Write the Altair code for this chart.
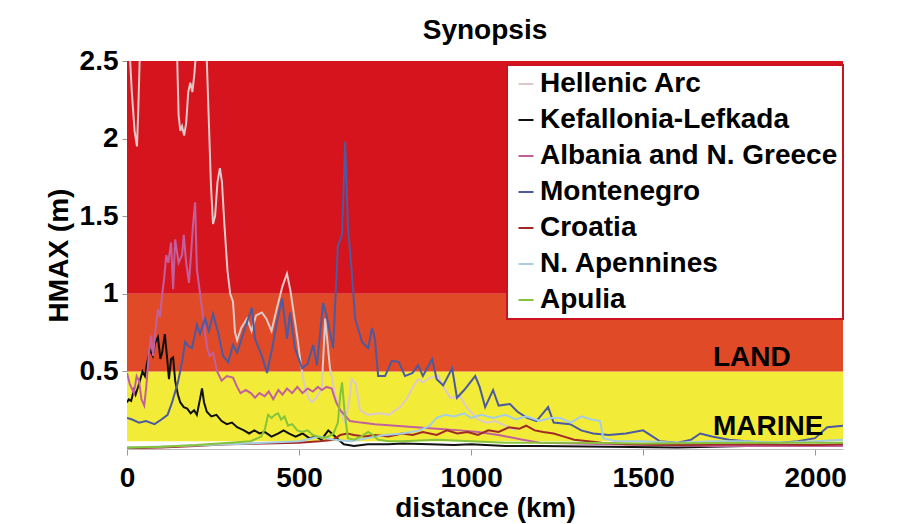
import altair as alt
import pandas as pd

# ---------------- data ----------------
series_names = ["Hellenic Arc", "Kefallonia-Lefkada", "Albania and N. Greece",
                "Montenegro", "Croatia", "N. Apennines", "Apulia"]
series_colors = ["#dccaca", "#111111", "#c2609e", "#4c5aa0", "#a02a26", "#a6cde4", "#86c23a"]

hellenic_km = [0, 8, 14, 22, 29, 33, 38, 60, 100, 140, 146, 150, 155, 160, 166, 172, 178, 184, 190, 196,
               202, 215, 225, 232, 238, 244, 250, 256, 263, 270, 276, 283, 292, 300, 308, 314, 320, 332,
               349, 362, 375, 392, 405, 420, 436, 452, 465, 475, 483, 495, 505, 517, 528, 537, 550, 566,
               576, 590, 605, 614, 625, 634, 645, 653, 665, 677, 700, 735, 760, 794, 815, 831, 846, 860,
               880, 905, 920, 940, 968, 990, 1020, 1045, 1070, 1100, 1130]
hellenic_v = [2.7, 2.55, 2.3, 2.05, 1.95, 2.2, 2.6, 2.9, 2.95, 2.8, 2.5, 2.15, 2.05, 2.08, 2.02, 2.1, 2.3, 2.36, 2.3, 2.42,
              2.6, 2.9, 2.8, 2.5, 2.1, 1.7, 1.45, 1.5, 1.72, 1.81, 1.72, 1.45, 1.15, 1.0, 0.95, 0.75, 0.70, 0.78,
              0.84, 0.76, 0.86, 0.88, 0.84, 0.76, 0.91, 1.05, 1.13, 1.02, 0.90, 0.72, 0.55, 0.39, 0.33, 0.30, 0.33, 0.39,
              0.84, 0.52, 0.35, 0.28, 0.22, 0.17, 0.30, 0.45, 0.42, 0.25, 0.22, 0.23, 0.22, 0.27, 0.33, 0.40, 0.45, 0.43,
              0.46, 0.47, 0.40, 0.33, 0.34, 0.26, 0.19, 0.17, 0.18, 0.15, 0.12]

kef_km = [0, 5, 12, 20, 25, 35, 45, 52, 58, 67, 75, 81, 90, 97, 102, 110, 116, 122, 128, 134, 140, 148, 155,
          165, 175, 185, 195, 203, 212, 218, 224, 232, 245, 260, 275, 290, 305, 320, 340, 355, 370, 385, 400,
          420, 440, 455, 470, 490, 510, 530, 550, 565, 585, 600, 615, 630, 660, 700, 760, 800, 880, 950, 1000,
          1100, 1200, 1400, 1600, 1800, 2081]
kef_v = [0.30, 0.32, 0.31, 0.38, 0.35, 0.42, 0.50, 0.47, 0.55, 0.64, 0.60, 0.68, 0.72, 0.58, 0.62, 0.74, 0.60, 0.45,
         0.58, 0.59, 0.44, 0.35, 0.30, 0.27, 0.26, 0.23, 0.25, 0.22, 0.32, 0.39, 0.30, 0.24, 0.21, 0.22, 0.18, 0.16,
         0.17, 0.14, 0.12, 0.10, 0.12, 0.10, 0.11, 0.08, 0.10, 0.12, 0.10, 0.08, 0.10, 0.07, 0.08, 0.06, 0.12, 0.09,
         0.06, 0.03, 0.02, 0.03, 0.03, 0.035, 0.03, 0.025, 0.03, 0.02, 0.02, 0.015, 0.01, 0.02, 0.02]

alb_km = [0, 8, 14, 20, 28, 35, 42, 50, 56, 64, 70, 76, 82, 90, 96, 102, 108, 114, 120, 128, 134, 140, 150, 160,
          165, 172, 180, 186, 192, 198, 203, 213, 223, 232, 240, 250, 262, 275, 290, 308, 320, 330, 345, 360,
          372, 385, 400, 412, 425, 440, 452, 465, 480, 495, 510, 525, 540, 555, 566, 580, 595, 608, 620, 648,
          680, 720, 780, 840, 900, 968, 1020, 1080, 1150, 1200, 1400, 1700, 2081]
alb_v = [0.49, 0.42, 0.39, 0.36, 0.47, 0.44, 0.32, 0.28, 0.40, 0.62, 0.73, 0.60, 0.75, 0.90, 0.85, 0.99, 1.10, 1.25,
         1.20, 1.33, 1.03, 1.35, 1.20, 1.25, 1.38, 1.20, 1.07, 1.25, 1.45, 1.59, 1.16, 0.99, 0.82, 0.66, 0.60, 0.62,
         0.50, 0.44, 0.47, 0.46, 0.40, 0.36, 0.38, 0.36, 0.33, 0.36, 0.34, 0.37, 0.32, 0.38, 0.35, 0.39, 0.36, 0.40,
         0.36, 0.39, 0.37, 0.40, 0.38, 0.40, 0.39, 0.30, 0.25, 0.18, 0.17, 0.16, 0.15, 0.14, 0.13, 0.12, 0.11, 0.09,
         0.06, 0.04, 0.03, 0.02, 0.02]

mon_km = [0, 15, 35, 55, 80, 100, 118, 131, 148, 160, 169, 180, 189, 203, 212, 227, 238, 250, 265, 279, 294, 308,
          320, 343, 363, 372, 392, 407, 422, 436, 451, 465, 474, 488, 509, 525, 541, 552, 570, 580, 599, 613,
          625, 634, 642, 654, 663, 683, 701, 712, 720, 730, 750, 770, 790, 808, 830, 846, 860, 887, 900, 919,
          945, 959, 980, 1012, 1025, 1041, 1064, 1080, 1113, 1135, 1163, 1190, 1224, 1240, 1288, 1320, 1355,
          1400, 1450, 1500, 1549, 1600, 1640, 1666, 1700, 1750, 1800, 1850, 1900, 1950, 2000, 2035, 2081]
mon_v = [0.20, 0.19, 0.17, 0.18, 0.16, 0.19, 0.22, 0.30, 0.43, 0.56, 0.69, 0.66, 0.65, 0.80, 0.74, 0.84, 0.76, 0.87,
         0.75, 0.60, 0.56, 0.67, 0.62, 0.78, 0.91, 0.71, 0.60, 0.49, 0.65, 0.82, 0.97, 0.71, 0.88, 0.65, 0.52, 0.55,
         0.67, 0.54, 0.94, 0.86, 0.65, 1.31, 1.38, 1.98, 1.44, 1.12, 0.84, 0.69, 0.65, 0.78, 0.72, 0.47, 0.47, 0.57,
         0.56, 0.47, 0.49, 0.54, 0.47, 0.58, 0.45, 0.41, 0.52, 0.33, 0.38, 0.47, 0.40, 0.27, 0.38, 0.28, 0.29, 0.24,
         0.20, 0.18, 0.27, 0.17, 0.16, 0.12, 0.10, 0.09, 0.10, 0.12, 0.05, 0.04, 0.06, 0.10, 0.08, 0.06, 0.05, 0.04,
         0.04, 0.05, 0.07, 0.14, 0.15]

cro_km = [0, 100, 150, 200, 250, 300, 400, 500, 560, 600, 620, 640, 660, 690, 720, 760, 800, 830, 860, 900, 930,
          960, 990, 1020, 1050, 1080, 1110, 1140, 1160, 1185, 1210, 1240, 1270, 1300, 1340, 1380, 1450, 1600,
          1800, 2000, 2081]
cro_v = [0.005, 0.01, 0.015, 0.02, 0.025, 0.03, 0.035, 0.04, 0.05, 0.06, 0.09, 0.10, 0.09, 0.08, 0.09, 0.08, 0.10,
         0.09, 0.11, 0.09, 0.12, 0.10, 0.11, 0.09, 0.12, 0.11, 0.14, 0.13, 0.15, 0.12, 0.11, 0.10, 0.08, 0.06, 0.05,
         0.04, 0.03, 0.025, 0.03, 0.025, 0.03]

ape_km = [0, 150, 300, 400, 500, 560, 600, 650, 700, 750, 800, 850, 880, 900, 924, 950, 980, 1000, 1030, 1064,
          1100, 1130, 1160, 1200, 1230, 1259, 1290, 1320, 1350, 1375, 1384, 1420, 1500, 1600, 1700, 1800, 1900,
          2000, 2081]
ape_v = [0.01, 0.02, 0.03, 0.04, 0.05, 0.08, 0.06, 0.05, 0.07, 0.09, 0.10, 0.12, 0.15, 0.20, 0.22, 0.21, 0.23, 0.20,
         0.22, 0.20, 0.22, 0.19, 0.21, 0.18, 0.20, 0.20, 0.17, 0.21, 0.19, 0.18, 0.07, 0.05, 0.05, 0.04, 0.05, 0.05,
         0.04, 0.05, 0.06]

apu_km = [0, 100, 200, 300, 360, 390, 401, 410, 420, 430, 439, 448, 458, 468, 480, 495, 509, 525, 540, 555, 567,
          585, 600, 613, 620, 625, 632, 642, 660, 680, 701, 715, 730, 760, 800, 900, 1000, 1100, 1300, 1500,
          1800, 2081]
apu_v = [0.01, 0.015, 0.025, 0.04, 0.05, 0.08, 0.13, 0.22, 0.20, 0.22, 0.23, 0.19, 0.21, 0.15, 0.16, 0.12, 0.11,
         0.12, 0.09, 0.08, 0.07, 0.08, 0.10, 0.17, 0.35, 0.43, 0.25, 0.07, 0.06, 0.08, 0.11, 0.09, 0.06, 0.05, 0.05,
         0.06, 0.05, 0.04, 0.04, 0.035, 0.04, 0.04]

# background hazard bands (HMAX thresholds, m)
band_low = [0.05, 0.5, 1.0]
band_high = [0.5, 1.0, 2.5]
band_names = ["marine", "land", "high"]
band_colors = ["#f2ec38", "#e04a26", "#d6141e"]

# zone labels
zone_text = ["LAND", "MARINE"]
zone_km = [1703, 1703]
zone_v = [0.535, 0.087]

x_ticks = [0, 500, 1000, 1500, 2000]
y_ticks = [0.5, 1.0, 1.5, 2.0, 2.5]
x_max = 2081
y_max = 2.5

# ---------------- build tables ----------------
all_km = [hellenic_km, kef_km, alb_km, mon_km, cro_km, ape_km, apu_km]
all_v = [hellenic_v, kef_v, alb_v, mon_v, cro_v, ape_v, apu_v]
rows = []
for name, kms, vs in zip(series_names, all_km, all_v):
    for k, v in zip(kms, vs):
        rows.append({"series": name, "km": k, "hmax": v})
lines_df = pd.DataFrame(rows)

bands_df = pd.DataFrame({"lo": band_low, "hi": band_high, "band": band_names})
zones_df = pd.DataFrame({"text": zone_text, "km": zone_km, "v": zone_v})

W, H = 716, 388
FONT = "Liberation Sans"

xscale = alt.Scale(domain=[0, x_max], nice=False, zero=False)
yscale = alt.Scale(domain=[0, y_max], nice=False)

bands = alt.Chart(bands_df).mark_rect().encode(
    x=alt.value(0), x2=alt.value(W),
    y=alt.Y("lo:Q", scale=yscale),
    y2="hi:Q",
    fill=alt.Fill("band:N", scale=alt.Scale(domain=band_names, range=band_colors), legend=None),
)

lines = alt.Chart(lines_df).mark_line(clip=True, strokeWidth=2).encode(
    x=alt.X("km:Q", scale=xscale,
            axis=alt.Axis(values=x_ticks, title="distance (km)", format="d")),
    y=alt.Y("hmax:Q", scale=yscale,
            axis=alt.Axis(values=y_ticks, title="HMAX (m)", format=".1~f")),
    color=alt.Color("series:N", scale=alt.Scale(domain=series_names, range=series_colors),
                    legend=alt.Legend(title=None, orient="none", legendX=380, legendY=4,
                                      fillColor="white", strokeColor="#c8141e",
                                      padding=5, rowPadding=8, symbolType="stroke",
                                      symbolSize=225, symbolStrokeWidth=2, labelOffset=0,
                                      labelFontSize=28, labelFont=FONT, labelFontWeight="bold",
                                      labelColor="black", labelLimit=400)),
    order=alt.Order("km:Q"),
)

zones = alt.Chart(zones_df).mark_text(align="left", baseline="alphabetic", fontSize=28,
                                      font=FONT, fontWeight="bold", color="black").encode(
    x=alt.X("km:Q", scale=xscale),
    y=alt.Y("v:Q", scale=yscale),
    text="text:N",
)

chart = alt.layer(bands, lines, zones).resolve_scale(fill="independent", color="independent").properties(
    width=W, height=H,
    title=alt.TitleParams("Synopsis", fontSize=28, font=FONT, fontWeight="bold", color="black",
                          anchor="middle", offset=2),
    autosize=alt.AutoSizeParams(type="none"),
    padding={"left": 127, "top": 61, "right": 74, "bottom": 75},
    background="white",
).configure_view(strokeWidth=0).configure_legend(strokeWidth=2).configure_axis(
    labelFont=FONT, labelFontSize=28, labelFontWeight="bold", labelColor="black",
    titleFont=FONT, titleFontSize=28, titleFontWeight="bold", titleColor="black",
    grid=False, tickColor="#999999", domainColor="#bbbbbb",
).configure_axisX(tickSize=6, labelPadding=9, titlePadding=2, labelFlush=False
).configure_axisY(tickSize=5, labelPadding=4, titlePadding=6, domain=False)

chart.save("out.html", embed_options={"renderer": "svg", "actions": False})
